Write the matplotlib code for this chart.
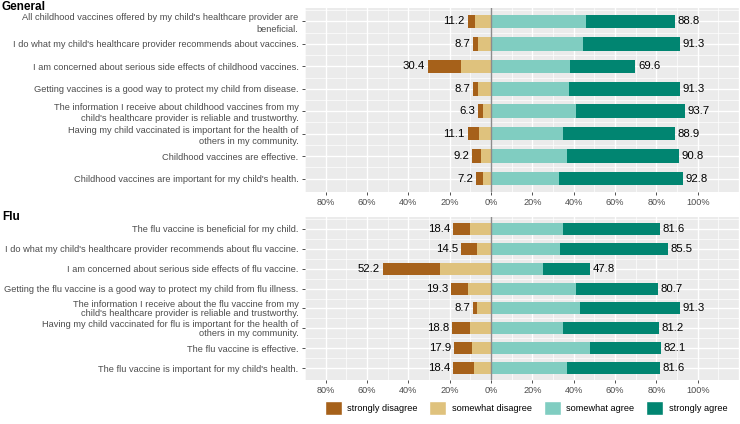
import numpy as np
import matplotlib
matplotlib.use("Agg")
import matplotlib.pyplot as plt
from matplotlib.patches import Patch

plt.rcParams['font.family'] = ['Liberation Sans', 'DejaVu Sans']

# ---- data (percent of respondents) ----
general_items = [
    "All childhood vaccines offered by my child's healthcare provider are\nbeneficial.",
    "I do what my child's healthcare provider recommends about vaccines.",
    "I am concerned about serious side effects of childhood vaccines.",
    "Getting vaccines is a good way to protect my child from disease.",
    "The information I receive about childhood vaccines from my\nchild's healthcare provider is reliable and trustworthy.",
    "Having my child vaccinated is important for the health of\nothers in my community.",
    "Childhood vaccines are effective.",
    "Childhood vaccines are important for my child's health.",
]
general_strong_dis = [3.5, 2.5, 16.0, 2.5, 2.5, 5.3, 4.4, 3.4]
general_some_dis = [7.7, 6.2, 14.4, 6.2, 3.8, 5.8, 4.8, 3.8]
general_some_agr = [46.1, 44.5, 38.1, 37.6, 41.1, 34.7, 36.8, 32.8]
general_strong_agr = [42.7, 46.8, 31.5, 53.7, 52.6, 54.2, 54.0, 60.0]
general_dis_total = [11.2, 8.7, 30.4, 8.7, 6.3, 11.1, 9.2, 7.2]
general_agr_total = [88.8, 91.3, 69.6, 91.3, 93.7, 88.9, 90.8, 92.8]

flu_items = [
    "The flu vaccine is beneficial for my child.",
    "I do what my child's healthcare provider recommends about flu vaccine.",
    "I am concerned about serious side effects of flu vaccine.",
    "Getting the flu vaccine is a good way to protect my child from flu illness.",
    "The information I receive about the flu vaccine from my\nchild's healthcare provider is reliable and trustworthy.",
    "Having my child vaccinated for flu is important for the health of\nothers in my community.",
    "The flu vaccine is effective.",
    "The flu vaccine is important for my child's health.",
]
flu_strong_dis = [8.3, 7.8, 27.6, 8.3, 2.0, 8.7, 8.8, 10.2]
flu_some_dis = [10.1, 6.7, 24.6, 11.0, 6.7, 10.1, 9.1, 8.2]
flu_some_agr = [34.7, 33.3, 25.1, 41.0, 43.0, 34.7, 47.8, 36.6]
flu_strong_agr = [46.9, 52.2, 22.7, 39.7, 48.3, 46.5, 34.3, 45.0]
flu_dis_total = [18.4, 14.5, 52.2, 19.3, 8.7, 18.8, 17.9, 18.4]
flu_agr_total = [81.6, 85.5, 47.8, 80.7, 91.3, 81.2, 82.1, 81.6]

levels = ["strongly disagree", "somewhat disagree", "somewhat agree", "strongly agree"]
colors = ["#A6611A", "#DFC27D", "#80CDC1", "#018571"]
ticks = [-80, -60, -40, -20, 0, 20, 40, 60, 80, 100]
tick_labels = ["80%", "60%", "40%", "20%", "0%", "20%", "40%", "60%", "80%", "100%"]

W, H = 740, 424
fig = plt.figure(figsize=(W / 100, H / 100), dpi=100)
ax1 = fig.add_axes([305 / W, 1 - 192 / H, 434 / W, 184 / H])
ax2 = fig.add_axes([305 / W, 1 - 380 / H, 434 / W, 163 / H])


def draw_panel(ax, items, sd, swd, swa, sa, dtot, atot, title, title_y, lsp):
    n = len(items)
    y = np.arange(n)[::-1]
    sd, swd, swa, sa = map(np.array, (sd, swd, swa, sa))
    ax.set_facecolor("#EBEBEB")
    # grid
    for v in range(-90, 121, 10):
        lw = 1.0 if v % 20 == 0 else 0.5
        ax.axvline(v, color="white", lw=lw, zorder=0)
    for yy in y:
        ax.axhline(yy, color="white", lw=1.0, zorder=0)
        ax.axhline(yy + 0.5, color="white", lw=0.5, zorder=0)
    bh = 0.6
    ax.barh(y, -swd, height=bh, color=colors[1], zorder=2)
    ax.barh(y, -sd, left=-swd, height=bh, color=colors[0], zorder=2)
    ax.barh(y, swa, height=bh, color=colors[2], zorder=2)
    ax.barh(y, sa, left=swa, height=bh, color=colors[3], zorder=2)
    ax.axvline(0, color="#8C8C8C", lw=1.0, zorder=3)
    for yy, d, a in zip(y, dtot, atot):
        ax.text(-d - 1.5, yy, f"{d:.1f}", ha="right", va="center", fontsize=8.2, color="black")
        ax.text(a + 1.5, yy, f"{a:.1f}", ha="left", va="center", fontsize=8.2, color="black")
    ax.set_xlim(-90, 120)
    ax.set_ylim(-0.6, n - 0.4)
    ax.set_yticks(y)
    ax.set_yticklabels(items, fontsize=6.7, color="#4D4D4D", linespacing=lsp)
    ax.set_xticks(ticks)
    ax.set_xticklabels(tick_labels, fontsize=6.6, color="#4D4D4D")
    ax.tick_params(axis="both", length=2.5, width=0.6, color="#333333", pad=2)
    for s in ax.spines.values():
        s.set_visible(False)
    fig.text(2 / W, 1 - title_y / H, title, fontsize=8.5, fontweight="bold", va="center", ha="left")


draw_panel(ax1, general_items, general_strong_dis, general_some_dis, general_some_agr,
           general_strong_agr, general_dis_total, general_agr_total, "General", 7, 1.3)
draw_panel(ax2, flu_items, flu_strong_dis, flu_some_dis, flu_some_agr,
           flu_strong_agr, flu_dis_total, flu_agr_total, "Flu", 217, 0.92)

handles = [Patch(facecolor=c, edgecolor="white", label=l) for c, l in zip(colors, levels)]
fig.legend(handles=handles, loc="center", bbox_to_anchor=(526 / W, 1 - 408 / H), ncol=4,
           frameon=False, fontsize=6.6, handlelength=1.85, handleheight=1.85,
           handletextpad=0.6, columnspacing=1.3)

fig.savefig("out.png", dpi=100)
